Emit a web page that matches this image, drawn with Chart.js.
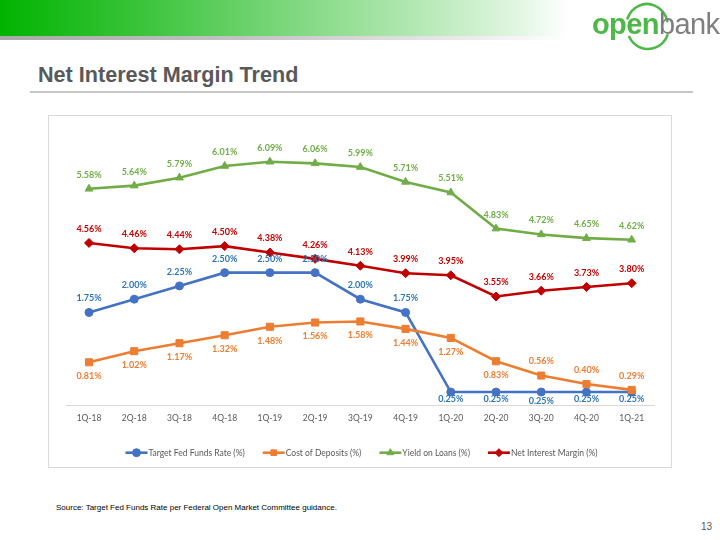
<!DOCTYPE html>
<html>
<head>
<meta charset="utf-8">
<script src="https://cdn.jsdelivr.net/npm/chart.js@4.4.1/dist/chart.umd.min.js"></script>
<style>
  html, body { margin:0; padding:0; background:#fff; }
  body { width:720px; height:540px; position:relative; overflow:hidden; font-family:"Liberation Sans", Arial, sans-serif; }
  #bar { position:absolute; left:0; top:0; width:720px; height:36px;
    background:linear-gradient(to right, #00b400 0%, #3cc43c 20%, #7dd77d 40%, #b4e8b4 58%, #e2f6e2 72%, #ffffff 79%); }
  #shadow { position:absolute; left:0; top:36px; width:720px; height:4px;
    background:linear-gradient(to right, #a8a8a8 0%, #c4c4c4 35%, #e4e4e4 60%, #ffffff 79%); }
  #arcs { position:absolute; left:600px; top:0px; z-index:5; }
  #logoText { position:absolute; left:592px; top:10px; font-size:29px; letter-spacing:-0.6px; line-height:29px; white-space:nowrap; z-index:6; }
  #logoText .o { color:#4cb848; font-weight:bold; }
  #logoText .b { color:#7f7f7f; }
  #title { position:absolute; left:38px; top:62px; font-size:21.6px; font-weight:bold; color:#595959; white-space:nowrap; }
  #rule { position:absolute; left:30px; top:91px; width:663px; height:2px; background:#c6c6c6; }
  #box { position:absolute; left:48px; top:115px; width:622px; height:351px; border:1px solid #d9d9d9; }
  #chart { position:absolute; left:48px; top:115px; }
  #src { position:absolute; left:56px; top:503px; font-size:8px; color:#000; white-space:nowrap; }
  #page { position:absolute; right:8px; top:521px; font-size:10px; color:#595959; }
</style>
</head>
<body>
<div id="bar"></div>
<div id="shadow"></div>
<canvas id="arcs" width="90" height="56"></canvas>
<div id="logoText"><span class="o">open</span><span class="b">bank</span></div>
<div id="title">Net Interest Margin Trend</div>
<div id="rule"></div>
<div id="box"></div>
<canvas id="chart" width="624" height="353" style="width:624px;height:353px"></canvas>
<div id="src">Source: Target Fed Funds Rate per Federal Open Market Committee guidance.</div>
<div id="page">13</div>

<script>
// ---- Data ----
const categories = ['1Q-18','2Q-18','3Q-18','4Q-18','1Q-19','2Q-19','3Q-19','4Q-19','1Q-20','2Q-20','3Q-20','4Q-20','1Q-21'];
const fedFunds   = [1.75, 2.00, 2.25, 2.50, 2.50, 2.50, 2.00, 1.75, 0.25, 0.25, 0.25, 0.25, 0.25];
const costDeposits = [0.81, 1.02, 1.17, 1.32, 1.48, 1.56, 1.58, 1.44, 1.27, 0.83, 0.56, 0.40, 0.29];
const yieldLoans = [5.58, 5.64, 5.79, 6.01, 6.09, 6.06, 5.99, 5.71, 5.51, 4.83, 4.72, 4.65, 4.62];
const netMargin  = [4.56, 4.46, 4.44, 4.50, 4.38, 4.26, 4.13, 3.99, 3.95, 3.55, 3.66, 3.73, 3.80];
const seriesNames = ['Target Fed Funds Rate (%)', 'Cost of Deposits (%)', 'Yield on Loans (%)', 'Net Interest Margin (%)'];

// label placement (style), separate from values
const sideFed  = ['a','a','a','a','a','a','a','a','b','b','b','b','b'];
const sideCost = ['b','b','b','b','b','b','b','b','b','b','a','a','a'];
const sideYield= ['a','a','a','a','a','a','a','a','a','a','a','a','a'];
const sideNim  = ['a','a','a','a','a','a','a','a','a','a','a','a','a'];

// logo arcs (decoration)
(function(){
  const c = document.getElementById('arcs').getContext('2d');
  c.strokeStyle = '#4cb848'; c.lineWidth = 2.6; c.lineCap = 'round';
  c.beginPath(); c.ellipse(47, 27, 21, 23, 0, Math.PI*1.12, Math.PI*1.92); c.stroke();
  c.beginPath(); c.ellipse(48, 27, 21, 22, 0, Math.PI*0.12, Math.PI*0.85); c.stroke();
})();

const BLUE='#4472C4', ORANGE='#ED7D31', GREEN='#70AD47', RED='#C00000';
const FONT='Lato, "Open Sans", sans-serif';

function mk(label, data, color, labelColor, style, radius, axis, sides, order){
  return { label, data, borderColor:color, backgroundColor:color, borderWidth:2.6,
    pointStyle:style, pointRadius:radius, pointHoverRadius:radius, pointBackgroundColor:color,
    pointBorderColor:color, pointBorderWidth:1, tension:0, yAxisID:axis,
    labelColor, sides, order, fill:false };
}
const datasets = [
  mk(seriesNames[0], fedFunds, BLUE, '#2E75B6', 'circle', 4, 'y', sideFed, 4),
  mk(seriesNames[1], costDeposits, ORANGE, ORANGE, 'rect', 5, 'y', sideCost, 3),
  mk(seriesNames[2], yieldLoans, GREEN, GREEN, 'triangle', 4.5, 'y2', sideYield, 2),
  mk(seriesNames[3], netMargin, RED, RED, 'rectRot', 4.5, 'y2', sideNim, 1),
];

const valueLabels = {
  id:'valueLabels',
  afterDatasetsDraw(chart){
    const ctx = chart.ctx;
    ctx.save();
    ctx.font = 'bold 9px ' + FONT;
    ctx.textAlign='center'; ctx.textBaseline='middle';
    chart.data.datasets.forEach((ds,i)=>{
      const meta = chart.getDatasetMeta(i);
      meta.data.forEach((pt,j)=>{
        let dy = ds.sides[j]==='a' ? -14 : 14;
        if (ds.sides[j]==='b' && i===0) dy = (j===10 ? 9 : 7.5);
        ctx.fillStyle = ds.labelColor;
        ctx.fillText(ds.data[j].toFixed(2)+'%', pt.x, pt.y+dy);
      });
    });
    ctx.restore();
  }
};

const customLegend = {
  id:'customLegend',
  afterDraw(chart){
    const ctx = chart.ctx;
    ctx.save();
    ctx.font = '8.5px ' + FONT;
    ctx.textBaseline='middle'; ctx.textAlign='left';
    const lineW = 22, gap = 1, spacing = 18;
    const items = chart.data.datasets.map(ds=>({ds, w: lineW + gap + ctx.measureText(ds.label).width}));
    const total = items.reduce((s,it)=>s+it.w,0) + spacing*(items.length-1);
    let x = chart.width/2 - total/2 + 1.5;
    const y = 337.7;
    items.forEach(it=>{
      const ds = it.ds;
      ctx.strokeStyle = ds.borderColor; ctx.lineWidth = 2.6;
      ctx.beginPath(); ctx.moveTo(x, y); ctx.lineTo(x+lineW, y); ctx.stroke();
      ctx.fillStyle = ds.borderColor; ctx.strokeStyle = ds.borderColor; ctx.lineWidth=1;
      Chart.helpers.drawPoint(ctx, {pointStyle:ds.pointStyle, radius:Math.min(ds.pointRadius,4), borderWidth:1}, x+lineW/2, y);
      ctx.fillStyle = '#595959';
      ctx.fillText(ds.label, x+lineW+gap, y+0.5);
      x += it.w + spacing;
    });
    ctx.restore();
  }
};

new Chart(document.getElementById('chart'), {
  type:'line',
  data:{ labels:categories, datasets },
  options:{
    responsive:false, animation:false, devicePixelRatio:1,
    layout:{ padding:{ left:18.4, right:17.7, top:25, bottom:0 } },
    plugins:{ legend:{display:false}, tooltip:{enabled:false} },
    scales:{
      x:{ type:'category', offset:true,
        grid:{ display:false, drawTicks:false },
        border:{ display:true, color:'#d9d9d9', width:1 },
        ticks:{ color:'#595959', font:{ family:FONT, size:8.5 }, padding:8, maxRotation:0, autoSkip:false },
        afterFit(scale){ scale.height = 62.7; }
      },
      y:{ display:false, min:0, max:5 },
      y2:{ display:false, min:1.5, max:6.5, position:'right' }
    }
  },
  plugins:[valueLabels, customLegend]
});
</script>
</body>
</html>
